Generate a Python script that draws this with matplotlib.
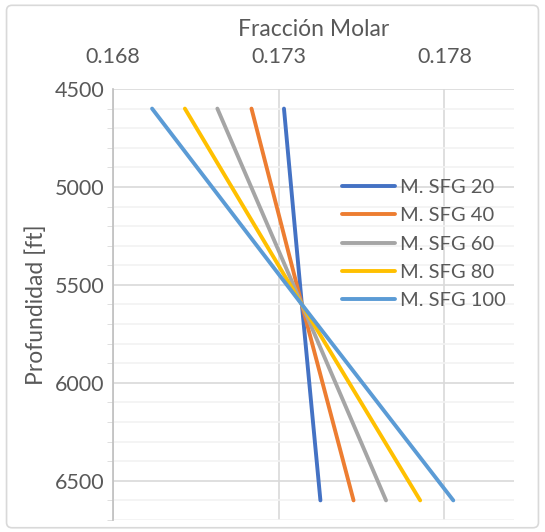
import numpy as np
import matplotlib.pyplot as plt
from matplotlib.patches import FancyBboxPatch
from matplotlib.ticker import MultipleLocator, FixedLocator

plt.rcParams['font.family'] = ['Lato', 'DejaVu Sans']

# depth points (ft)
depth = [4600, 5600, 6600]
# molar fraction of each series at those depths
sfg20 = [0.17316, 0.17370, 0.17426]
sfg40 = [0.17218, 0.17370, 0.17526]
sfg60 = [0.17115, 0.17370, 0.17624]
sfg80 = [0.17017, 0.17370, 0.17727]
sfg100 = [0.16918, 0.17370, 0.17827]

labels = ['M. SFG 20', 'M. SFG 40', 'M. SFG 60', 'M. SFG 80', 'M. SFG 100']
colors = ['#4472C4', '#ED7D31', '#A5A5A5', '#FFC000', '#5B9BD5']
xticks = [0.168, 0.173, 0.178]

txt = '#595959'

fig = plt.figure(figsize=(5.45, 5.32), dpi=100)
ax = fig.add_axes([0.2073, 0.0226, 0.943 - 0.2073, 0.8327 - 0.0226])

# chart border like excel
fig.patches.append(FancyBboxPatch((0.012, 0.008), 0.976, 0.982, boxstyle='round,pad=0,rounding_size=0.01',
                                  transform=fig.transFigure, fill=False, ec='#D9D9D9', lw=1.2))

for x, lab, c in zip([sfg20, sfg40, sfg60, sfg80, sfg100], labels, colors):
    ax.plot(x, depth, color=c, lw=2.8, label=lab, solid_capstyle='round', zorder=3)

ax.set_xlim(0.168, 0.1801)
ax.set_ylim(6700, 4500)
ax.xaxis.tick_top()
ax.xaxis.set_label_position('top')
ax.xaxis.set_major_locator(FixedLocator(xticks))
ax.set_xticklabels([f'{v:.3f}' for v in xticks])
ax.yaxis.set_major_locator(MultipleLocator(500))
ax.yaxis.set_minor_locator(MultipleLocator(100))

ax.grid(True, which='major', color='#D9D9D9', lw=1.2, zorder=0)
ax.grid(True, which='minor', axis='y', color='#F2F2F2', lw=1.2, zorder=0)
ax.set_axisbelow(True)

for s in ['top', 'right', 'bottom']:
    ax.spines[s].set_visible(False)
ax.spines['left'].set_color('#BFBFBF')
ax.spines['left'].set_linewidth(1.2)

ax.tick_params(axis='both', which='both', length=0, labelsize=15.5, colors=txt)
ax.tick_params(axis='x', pad=16)
ax.tick_params(axis='y', pad=6)
ax.tick_params(axis='y', which='minor', length=4, color='#D9D9D9', direction='out')

ax.set_xlabel('Fracción Molar', fontsize=16.5, color=txt, labelpad=8)
ax.set_ylabel('Profundidad [ft]', fontsize=16.5, color=txt, labelpad=6)

ax.legend(loc='upper left', bbox_to_anchor=(0.545, 0.815), frameon=False, fontsize=14.5,
          handlelength=2.65, labelcolor=txt, borderpad=0, labelspacing=0.56, handletextpad=0.25)

fig.savefig('out.png', dpi=100)
